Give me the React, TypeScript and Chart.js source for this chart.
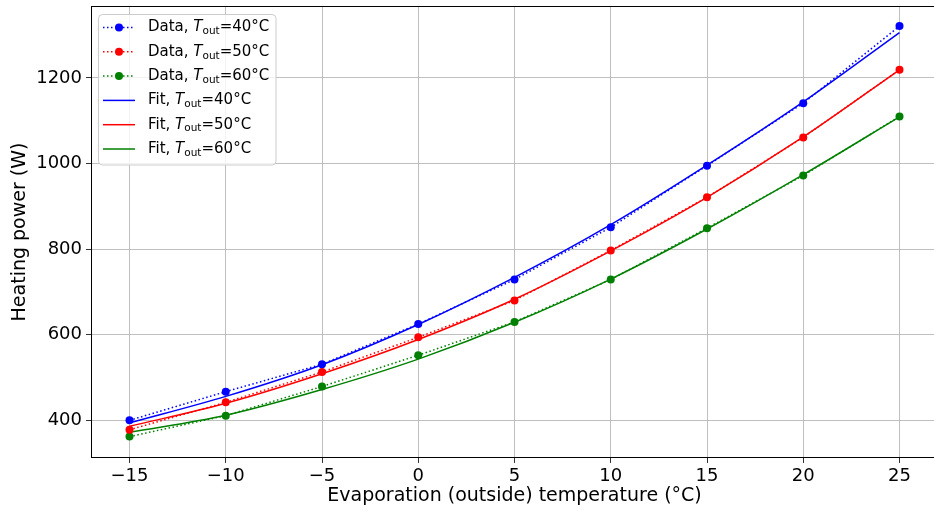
import React, { useEffect, useRef } from "react";
import { Chart, registerables } from "chart.js";

Chart.register(...registerables);

// Evaporation (outside) temperature, °C
const temps = [-15, -10, -5, 0, 5, 10, 15, 20, 25];

// Outlet temperatures of the three series
const outletTemps = [40, 50, 60];

// Measured heating power (W)
const data40 = [400, 467, 531, 625, 729, 851, 995, 1141, 1321];
const data50 = [378, 442, 513, 594, 680, 797, 921, 1061, 1219];
const data60 = [362, 411, 479, 552, 630, 729, 849, 972, 1110];

// Fitted heating power (W)
const fit40 = [394, 456, 530, 624, 734, 857, 996, 1144, 1306];
const fit50 = [386, 440, 509, 589, 683, 796, 921, 1062, 1219];
const fit60 = [372, 412, 472, 543, 629, 730, 847, 974, 1109];

// Axis ticks
const xTicks = [-15, -10, -5, 0, 5, 10, 15, 20, 25];
const yTicks = [400, 600, 800, 1000, 1200];

const FONT = "'DejaVu Sans', sans-serif";
const COLORS = ["#0000ff", "#ff0000", "#008000"];

// The figure is cut off at the right: the canvas is wider than the
// visible box, so the right-hand spine lies just outside the view.
const VIEW_W = 934;
const VIEW_H = 511;
const CANVAS_W = 942;

const fmt = (v: number) => (v < 0 ? "\u2212" + Math.abs(v) : String(v));

const toPoints = (ys: number[]) => temps.map((x, i) => ({ x, y: ys[i] }));

// Black frame round the plotting area (all four spines)
const framePlugin = {
  id: "frame",
  afterDatasetsDraw(chart: any) {
    const { ctx, chartArea: a } = chart;
    ctx.save();
    ctx.strokeStyle = "#000";
    ctx.lineWidth = 1;
    ctx.strokeRect(a.left + 0.5, a.top + 0.5, a.right - a.left - 1, a.bottom - a.top - 1);
    ctx.restore();
  },
};

// Legend with an italic T and subscript "out"
const legendPlugin = {
  id: "richLegend",
  afterDraw(chart: any) {
    const { ctx } = chart;
    const sets = chart.data.datasets;
    const bx = 98.5,
      by = 14.5,
      bw = 177.5,
      bh = 150.5,
      r = 4;
    ctx.save();
    ctx.beginPath();
    ctx.moveTo(bx + r, by);
    ctx.arcTo(bx + bw, by, bx + bw, by + bh, r);
    ctx.arcTo(bx + bw, by + bh, bx, by + bh, r);
    ctx.arcTo(bx, by + bh, bx, by, r);
    ctx.arcTo(bx, by, bx + bw, by, r);
    ctx.closePath();
    ctx.fillStyle = "rgba(255,255,255,0.8)";
    ctx.fill();
    ctx.strokeStyle = "#cccccc";
    ctx.lineWidth = 1;
    ctx.stroke();

    sets.forEach((ds: any, i: number) => {
      const y = 27.5 + i * 24.3;
      ctx.strokeStyle = ds.borderColor;
      ctx.lineWidth = 1.5;
      ctx.setLineDash(ds.borderDash || []);
      ctx.beginPath();
      ctx.moveTo(103, y);
      ctx.lineTo(135, y);
      ctx.stroke();
      ctx.setLineDash([]);
      if (ds.pointRadius > 0) {
        ctx.fillStyle = ds.borderColor;
        ctx.beginPath();
        ctx.arc(119, y, 4, 0, Math.PI * 2);
        ctx.fill();
      }
      let x = 148;
      ctx.fillStyle = "#000";
      ctx.textBaseline = "middle";
      ctx.textAlign = "left";
      ctx.font = `15px ${FONT}`;
      const head = `${ds.kind}, `;
      ctx.fillText(head, x, y);
      x += ctx.measureText(head).width;
      ctx.font = `italic 15px ${FONT}`;
      ctx.fillText("T", x, y);
      x += ctx.measureText("T").width;
      ctx.font = `10.5px ${FONT}`;
      ctx.fillText("out", x, y + 4);
      x += ctx.measureText("out").width;
      ctx.font = `15px ${FONT}`;
      ctx.fillText(`=${ds.outlet}°C`, x, y);
    });
    ctx.restore();
  },
};

export default function App() {
  const canvasRef = useRef<HTMLCanvasElement>(null);

  useEffect(() => {
    if (!canvasRef.current) return;
    const dataSeries = [data40, data50, data60];
    const fitSeries = [fit40, fit50, fit60];

    const dataSets = dataSeries.map((ys, i) => ({
      label: `Data, Tout=${outletTemps[i]}°C`,
      kind: "Data",
      outlet: outletTemps[i],
      data: toPoints(ys),
      borderColor: COLORS[i],
      backgroundColor: COLORS[i],
      borderWidth: 1.5,
      borderDash: [1.5, 2.5],
      pointRadius: 4,
      pointBorderWidth: 0,
      pointHoverRadius: 4,
      tension: 0,
      order: 1,
    }));
    const fitSets = fitSeries.map((ys, i) => ({
      label: `Fit, Tout=${outletTemps[i]}°C`,
      kind: "Fit",
      outlet: outletTemps[i],
      data: toPoints(ys),
      borderColor: COLORS[i],
      backgroundColor: COLORS[i],
      borderWidth: 1.5,
      pointRadius: 0,
      cubicInterpolationMode: "monotone",
      order: 2,
    }));

    const chart = new Chart(canvasRef.current, {
      type: "line",
      data: { datasets: [...dataSets, ...fitSets] as any },
      options: {
        animation: false,
        responsive: false,
        maintainAspectRatio: false,
        events: [],
        layout: { padding: { top: 6, right: 4, bottom: 0, left: 0 } },
        plugins: { legend: { display: false }, tooltip: { enabled: false } },
        scales: {
          x: {
            type: "linear",
            min: -17,
            max: 27,
            afterBuildTicks: (s: any) => {
              s.ticks = xTicks.map((value) => ({ value }));
            },
            afterFit: (s: any) => {
              s.height = 53;
              s.paddingLeft = 0;
              s.paddingRight = 0;
            },
            grid: {
              color: "#b0b0b0",
              lineWidth: 0.8,
              tickColor: "#000",
              tickLength: 5,
            },
            border: { display: false },
            ticks: {
              color: "#000",
              font: { family: FONT, size: 18 },
              padding: 3,
              maxRotation: 0,
              callback: (v: any) => fmt(Number(v)),
            },
            title: {
              display: true,
              text: "Evaporation (outside) temperature (°C)",
              color: "#000",
              font: { family: FONT, size: 19 },
              padding: { top: 0, bottom: 4 },
            },
          },
          y: {
            type: "linear",
            min: 312,
            max: 1368,
            afterBuildTicks: (s: any) => {
              s.ticks = yTicks.map((value) => ({ value }));
            },
            afterFit: (s: any) => {
              s.width = 91;
              s.paddingTop = 0;
              s.paddingBottom = 0;
            },
            grid: {
              color: "#b0b0b0",
              lineWidth: 0.8,
              tickColor: "#000",
              tickLength: 5,
            },
            border: { display: false },
            ticks: {
              color: "#000",
              font: { family: FONT, size: 18 },
              padding: 4,
              callback: (v: any) => fmt(Number(v)),
            },
            title: {
              display: true,
              text: "Heating power (W)",
              color: "#000",
              font: { family: FONT, size: 19 },
              padding: { top: 9, bottom: 0 },
            },
          },
        },
      },
      plugins: [framePlugin, legendPlugin],
    } as any);

    return () => chart.destroy();
  }, []);

  return (
    <div
      style={{
        position: "absolute",
        left: 0,
        top: 0,
        width: VIEW_W,
        height: VIEW_H,
        overflow: "hidden",
        background: "#fff",
      }}
    >
      <canvas ref={canvasRef} width={CANVAS_W} height={VIEW_H} style={{ display: "block" }} />
    </div>
  );
}
